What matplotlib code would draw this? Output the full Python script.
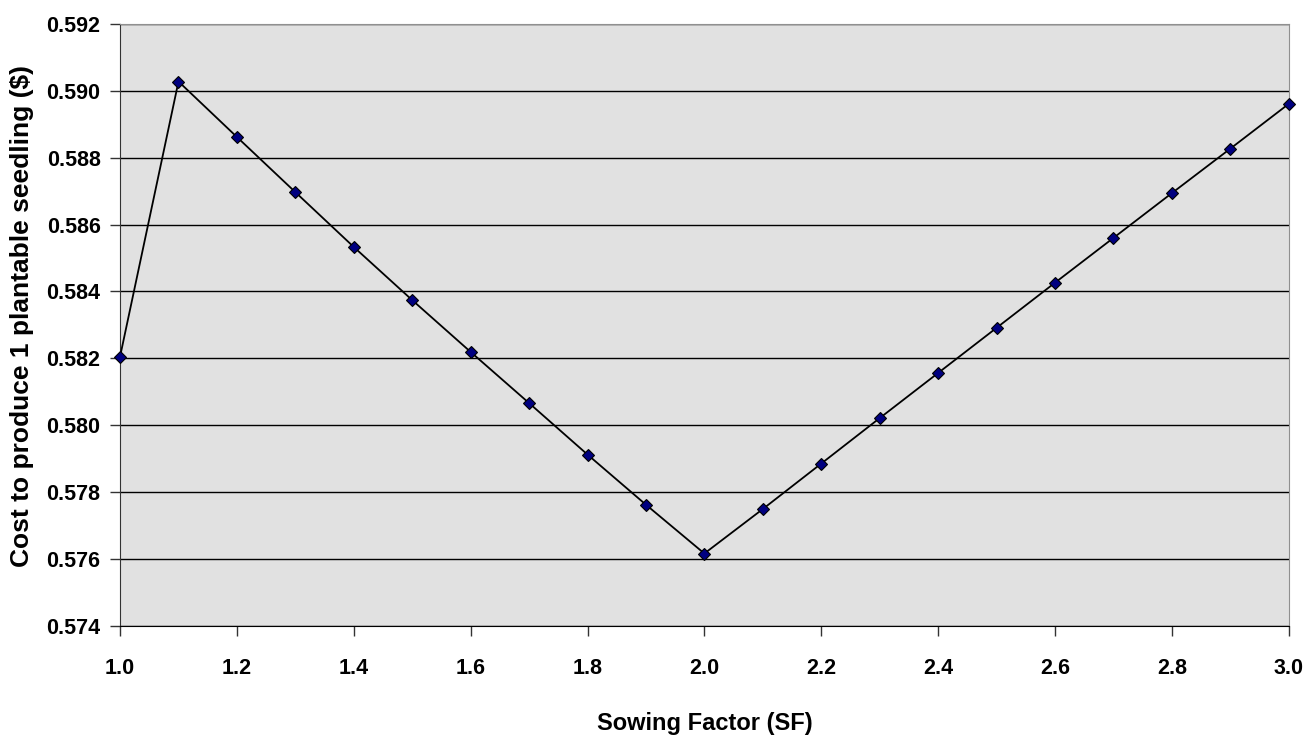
import matplotlib
matplotlib.use("Agg")
import matplotlib.pyplot as plt

plt.rcParams['font.family'] = ['Liberation Sans', 'DejaVu Sans']
plt.rcParams['font.weight'] = 'bold'

# Sowing factor vs cost per plantable seedling
sowing_factor = [1.0, 1.1, 1.2, 1.3, 1.4, 1.5, 1.6, 1.7, 1.8, 1.9, 2.0,
                 2.1, 2.2, 2.3, 2.4, 2.5, 2.6, 2.7, 2.8, 2.9, 3.0]
cost = [0.58205, 0.59028, 0.58862, 0.58697, 0.58533, 0.58374, 0.58219,
        0.58066, 0.57912, 0.57762, 0.57616, 0.57749, 0.57885, 0.58021,
        0.58156, 0.58291, 0.58426, 0.58560, 0.58694, 0.58827, 0.58961]

x_ticks = [1.0, 1.2, 1.4, 1.6, 1.8, 2.0, 2.2, 2.4, 2.6, 2.8, 3.0]
y_ticks = [0.574, 0.576, 0.578, 0.580, 0.582, 0.584, 0.586, 0.588, 0.590, 0.592]

fig = plt.figure(figsize=(13.05, 7.39), dpi=100)
ax = fig.add_axes([0.092, 0.1533, 0.8955, 0.8142])
ax.set_facecolor('#e1e1e1')

ax.plot(sowing_factor, cost, color='black', linewidth=1.3, marker='D',
        markersize=6.5, markerfacecolor='#000080', markeredgecolor='black',
        markeredgewidth=0.8, zorder=3, clip_on=False)

ax.set_xlim(1.0, 3.0)
ax.set_ylim(0.574, 0.592)
ax.set_xticks(x_ticks)
ax.set_yticks(y_ticks)
ax.set_xticklabels(['%.1f' % v for v in x_ticks])
ax.set_yticklabels(['%.3f' % v for v in y_ticks])
ax.tick_params(axis='both', labelsize=15.5, direction='out', length=7,
               width=1, color='#333333')
ax.tick_params(axis='x', pad=16)
ax.tick_params(axis='y', pad=7)
ax.yaxis.grid(True, color='black', linewidth=1)
ax.set_axisbelow(True)

for s in ['top', 'right']:
    ax.spines[s].set_color('#909090')
ax.spines['left'].set_color('#333333')
ax.spines['bottom'].set_color('black')

ax.set_xlabel('Sowing Factor (SF)', fontsize=17, fontweight='bold', labelpad=24)
ax.set_ylabel('Cost to produce 1 plantable seedling ($)', fontsize=19,
              fontweight='bold')
ax.yaxis.set_label_coords(-0.074, 0.515)

fig.savefig('out.png', dpi=100)
